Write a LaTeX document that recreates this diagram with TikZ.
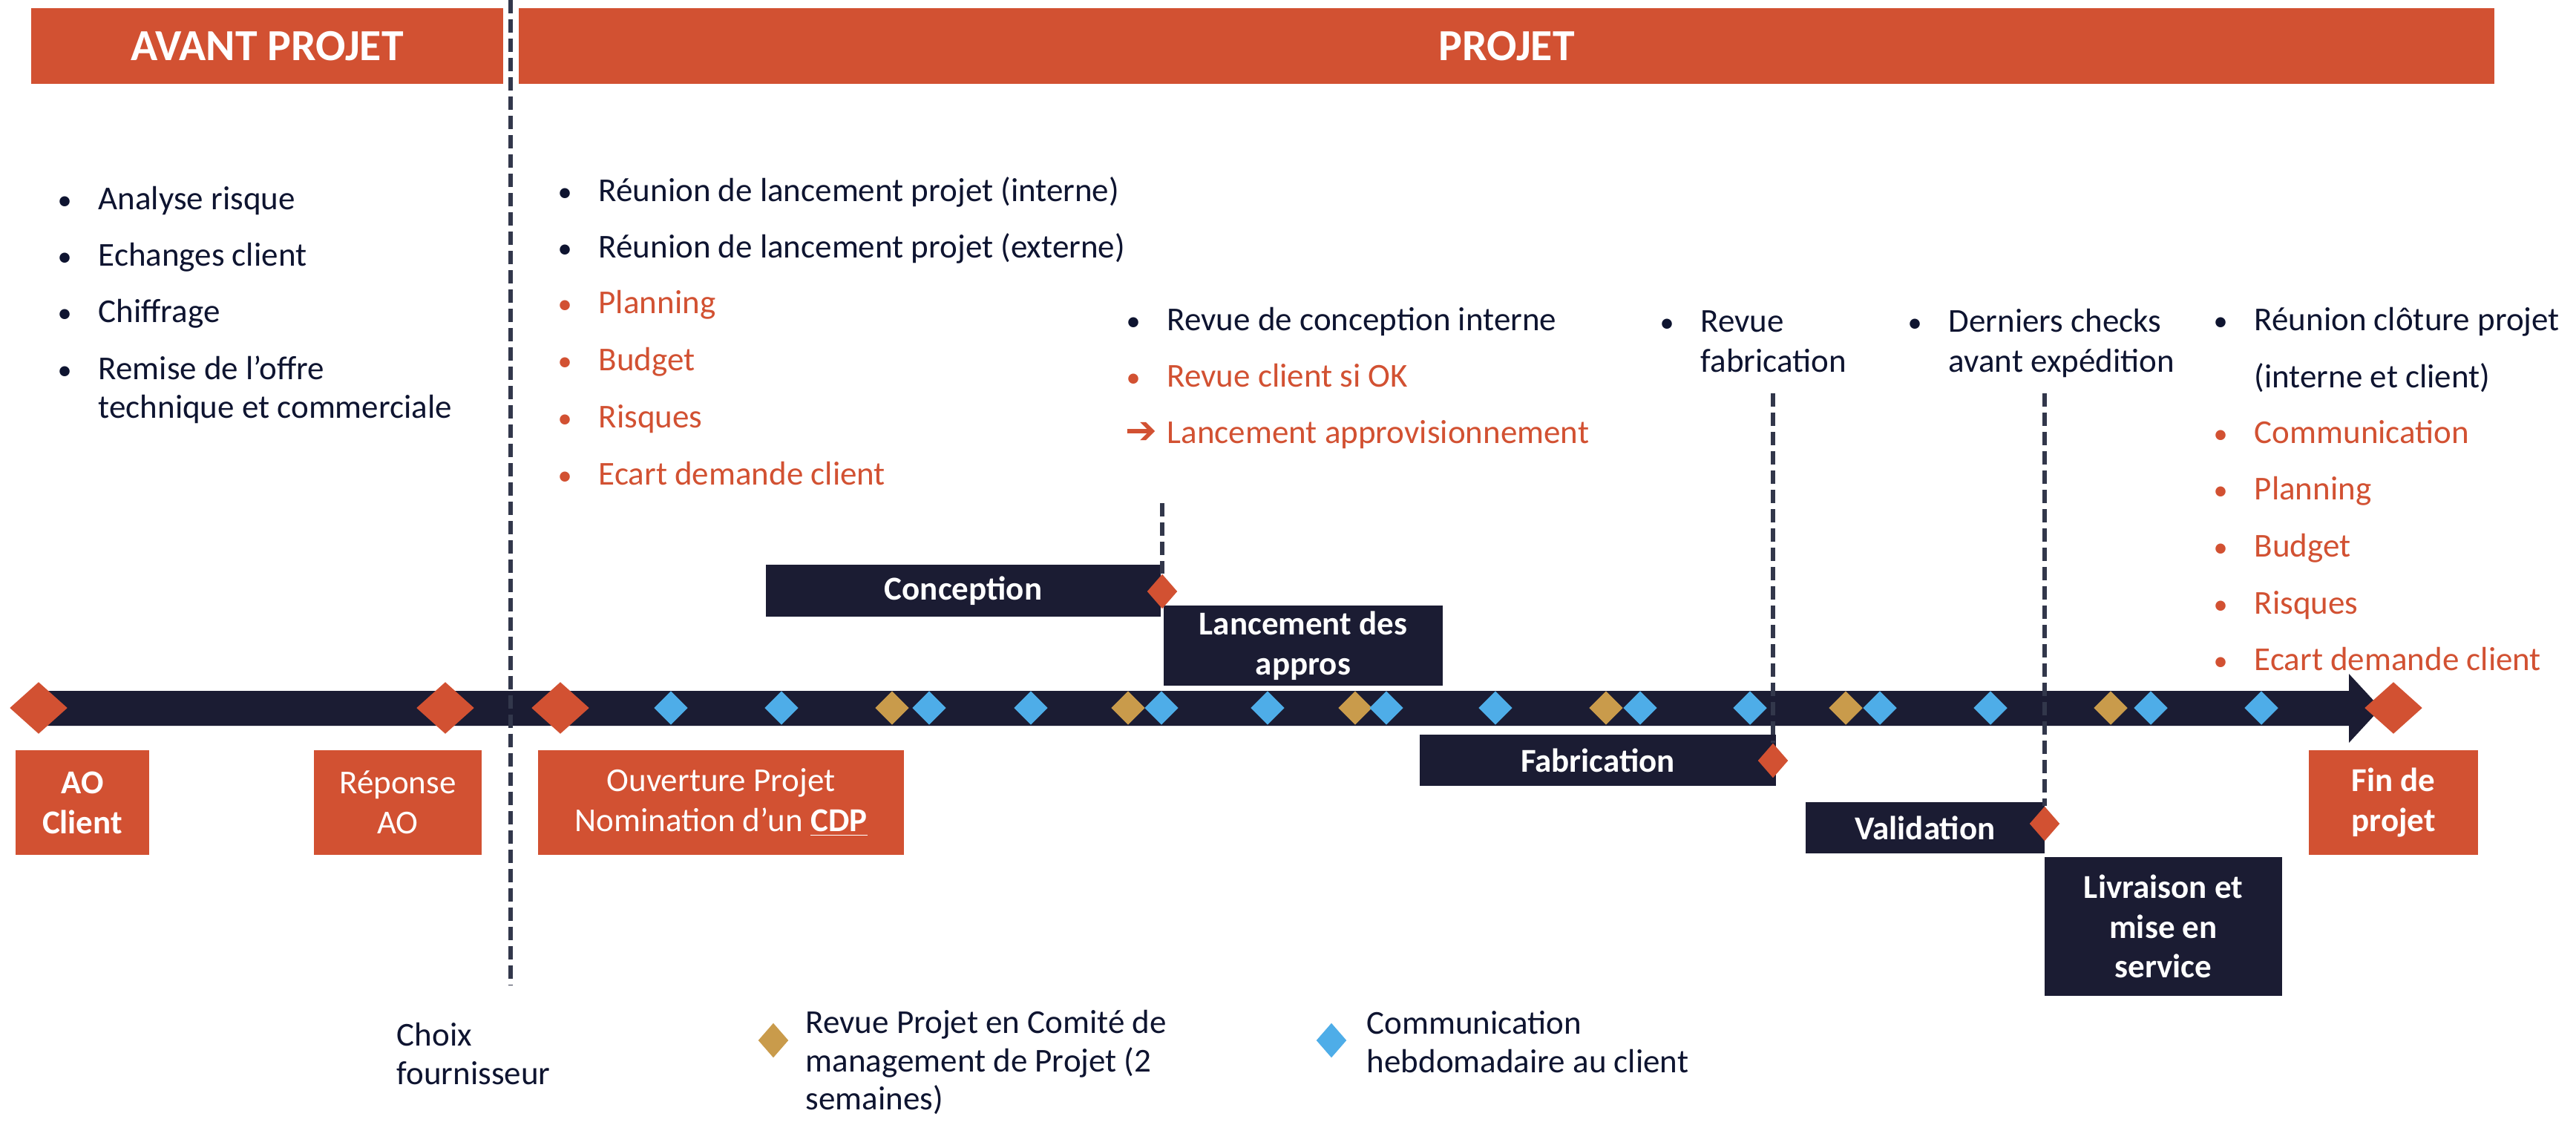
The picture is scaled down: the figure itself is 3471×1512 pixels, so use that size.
\documentclass[tikz,border=0pt]{standalone}
\usepackage{fontspec}
\setmainfont{Carlito}
\newfontfamily\symfont{DejaVu Sans}
\definecolor{tlorange}{RGB}{210,81,50}
\definecolor{tlnavy}{RGB}{27,28,51}
\definecolor{tlgold}{RGB}{201,155,75}
\definecolor{tlblue}{RGB}{78,173,232}
\definecolor{tlink}{RGB}{14,20,48}
\definecolor{tlgray}{RGB}{50,55,75}
\usetikzlibrary{shapes.geometric}
\newcommand{\itembul}{\llap{\makebox[0.55cm][l]{\scalebox{0.85}{\textbullet}}}}
\newcommand{\goarrow}{\llap{\makebox[0.56cm][l]{\fontsize{14.5}{15}\symfont ➔}}}

\begin{document}
\begin{tikzpicture}[x=0.01cm,y=-0.01cm,
  hdrbar/.style={fill=tlorange,text=white,font=\fontsize{17}{20}\selectfont\bfseries,
    minimum height=1.02cm,inner sep=0},
  mile/.style={diamond,fill=tlorange,minimum width=0.78cm,minimum height=0.70cm,inner sep=0},
  endmark/.style={diamond,fill=tlorange,minimum width=0.41cm,minimum height=0.47cm,inner sep=0},
  weekly/.style={diamond,fill=tlblue,minimum width=0.46cm,minimum height=0.46cm,inner sep=0},
  comite/.style={diamond,fill=tlgold,minimum width=0.46cm,minimum height=0.46cm,inner sep=0},
  milebox/.style={fill=tlorange,text=white,align=center,minimum height=1.41cm,inner sep=0,
    font=\fontsize{12.8}{15.3}\selectfont},
  boldbox/.style={milebox,font=\fontsize{12.8}{15.3}\selectfont\bfseries},
  phasebox/.style={fill=tlnavy,text=white,align=center,inner sep=0,
    font=\fontsize{12.8}{15.3}\selectfont\bfseries},
  guideline/.style={draw=tlgray,line width=1.5pt,dash pattern=on 0.18cm off 0.08cm},
  itm/.style={anchor=base west,inner sep=0,text=tlink,font=\fontsize{12.8}{15.3}\selectfont},
  oitm/.style={itm,text=tlorange}
]
  \path[fill=white,use as bounding box] (0,0) rectangle (3471,1512);

  % Headers
  \node[hdrbar,minimum width=6.36cm] (avant) at (360,62) {AVANT PROJET};
  \node[hdrbar,minimum width=26.6cm] (projet) at (2030,62) {PROJET};

  % Avant projet
  \node[itm] (ap1) at (132,282) {\itembul Analyse risque};
  \node[itm] (ap2) at (132,358) {\itembul Echanges client};
  \node[itm] (ap3) at (132,434) {\itembul Chiffrage};
  \node[itm] (ap4) at (132,511) {\itembul Remise de l’offre};
  \node[itm] (ap5) at (132,563) {technique et commerciale};

  % Lancement
  \node[itm] (la1) at (806,271) {\itembul Réunion de lancement projet (interne)};
  \node[itm] (la2) at (806,347) {\itembul Réunion de lancement projet (externe)};
  \node[oitm] (la3) at (806,422) {\itembul Planning};
  \node[oitm] (la4) at (806,499) {\itembul Budget};
  \node[oitm] (la5) at (806,576) {\itembul Risques};
  \node[oitm] (la6) at (806,653) {\itembul Ecart demande client};

  % Revues
  \node[itm] (rc1) at (1572,445) {\itembul Revue de conception interne};
  \node[oitm] (rc2) at (1572,521) {\itembul Revue client si OK};
  \node[oitm] (rc3) at (1572,597) {\goarrow Lancement approvisionnement};
  \node[itm] (rf1) at (2291,447) {\itembul Revue};
  \node[itm] (rf2) at (2291,501) {fabrication};
  \node[itm] (dc1) at (2625,447) {\itembul Derniers checks};
  \node[itm] (dc2) at (2625,501) {avant expédition};

  % Cloture
  \node[itm] (cl1) at (3037,445) {\itembul Réunion clôture projet};
  \node[itm] (cl2) at (3037,522) {(interne et client)};
  \node[oitm] (cl3) at (3037,597) {\itembul Communication};
  \node[oitm] (cl4) at (3037,673) {\itembul Planning};
  \node[oitm] (cl5) at (3037,750) {\itembul Budget};
  \node[oitm] (cl6) at (3037,827) {\itembul Risques};
  \node[oitm] (cl7) at (3037,903) {\itembul Ecart demande client};

  % Timeline
  \fill[tlnavy] (52,931) -- (3165,931) -- (3165,908) -- (3208,954.5) -- (3165,1001)
    -- (3165,978) -- (52,978) -- cycle;

  \node[weekly] (w1) at (904,954) {};
  \node[weekly] (w2) at (1053,954) {};
  \node[comite] (c1) at (1202,954) {};
  \node[weekly] (w3) at (1252,954) {};
  \node[weekly] (w4) at (1389,954) {};
  \node[comite] (c2) at (1520,954) {};
  \node[weekly] (w5) at (1565,954) {};
  \node[weekly] (w6) at (1708,954) {};
  \node[comite] (c3) at (1826,954) {};
  \node[weekly] (w7) at (1868,954) {};
  \node[weekly] (w8) at (2015,954) {};
  \node[comite] (c4) at (2164,954) {};
  \node[weekly] (w9) at (2210,954) {};
  \node[weekly] (w10) at (2358,954) {};
  \node[comite] (c5) at (2487,954) {};
  \node[weekly] (w11) at (2533,954) {};
  \node[weekly] (w12) at (2682,954) {};
  \node[comite] (c6) at (2844,954) {};
  \node[weekly] (w13) at (2898,954) {};
  \node[weekly] (w14) at (3047,954) {};

  \node[mile] (mAO) at (52,954) {};
  \node[mile] (mRep) at (600,954) {};
  \node[mile] (mOuv) at (755,954) {};
  \node[mile] (mFin) at (3225,954) {};

  % Jalons
  \node[boldbox,minimum width=1.80cm] (aoc) at (111,1081.5) {AO\\Client};
  \node[milebox,minimum width=2.26cm] (rep) at (536,1081.5) {Réponse\\AO};
  \node[milebox,minimum width=4.93cm] (ouv) at (971.5,1081.5)
    {Ouverture Projet\\Nomination d’un \underline{\textbf{CDP}}};
  \node[boldbox,minimum width=2.28cm] (fin) at (3225,1081.5) {Fin de\\projet};

  % Phases
  \node[phasebox,minimum width=5.32cm,minimum height=0.70cm] (conc) at (1298,796) {Conception};
  \node[phasebox,minimum width=3.76cm,minimum height=1.08cm] (appro) at (1756,870)
    {Lancement des\\appros};
  \node[phasebox,minimum width=4.80cm,minimum height=0.69cm] (fab) at (2153,1024.5) {Fabrication};
  \node[phasebox,minimum width=3.22cm,minimum height=0.69cm] (val) at (2594,1115.5) {Validation};
  \node[phasebox,minimum width=3.20cm,minimum height=1.87cm] (livr) at (2915,1248.5)
    {Livraison et\\mise en\\service};

  \node[endmark] (concEnd) at (1566,797) {};
  \node[endmark] (fabEnd) at (2389,1025) {};
  \node[endmark] (valEnd) at (2755,1110) {};

  % Separations
  \coordinate (sepTop) at (688,0);
  \coordinate (sepBot) at (688,1328);
  \coordinate (concTop) at (1566,678);
  \coordinate (fabTop) at (2389,530);
  \coordinate (valTop) at (2755,530);
  \draw[guideline] (sepTop) -- (sepBot);
  \draw[guideline] (concTop) -- (concEnd.north);
  \draw[guideline] (fabTop) -- (fabEnd.north);
  \draw[guideline] (valTop) -- (valEnd.north);

  % Legende
  \node[itm] (ch1) at (534,1409) {Choix};
  \node[itm] (ch2) at (534,1461) {fournisseur};
  \node[comite,minimum width=0.41cm,minimum height=0.47cm] (lgC) at (1042,1402) {};
  \node[itm] (lgC1) at (1085,1392) {Revue Projet en Comité de};
  \node[itm] (lgC2) at (1085,1444) {management de Projet (2};
  \node[itm] (lgC3) at (1085,1495) {semaines)};
  \node[weekly,minimum width=0.41cm,minimum height=0.47cm] (lgW) at (1794,1402) {};
  \node[itm] (lgW1) at (1841,1393) {Communication};
  \node[itm] (lgW2) at (1841,1445) {hebdomadaire au client};
\end{tikzpicture}
\end{document}
